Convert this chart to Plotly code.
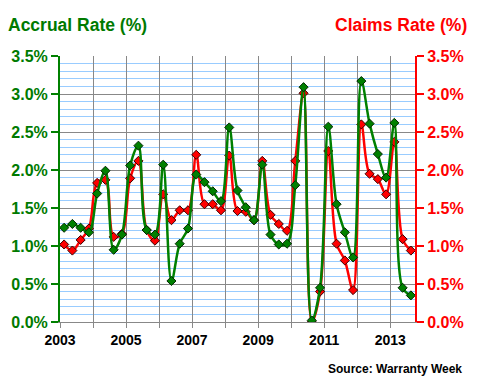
import numpy as np
import plotly.graph_objects as go

# Quarterly data 2003Q1 .. 2013Q3 (percent)
quarters = [f"{y}Q{q}" for y in range(2003, 2014) for q in range(1, 5)][:43]
accrual = [1.24, 1.29, 1.24, 1.18, 1.69, 1.99, 0.95, 1.15, 2.06, 2.32, 1.21,
           1.15, 2.07, 0.54, 1.03, 1.23, 1.94, 1.84, 1.72, 1.59, 2.56, 1.73,
           1.51, 1.34, 2.07, 1.15, 1.02, 1.03, 1.80, 3.09, 0.02, 0.45, 2.57,
           1.55, 1.18, 0.85, 3.17, 2.61, 2.21, 1.90, 2.62, 0.45, 0.35]
claims = [1.02, 0.94, 1.08, 1.23, 1.83, 1.87, 1.12, 1.16, 1.89, 2.12, 1.21,
          1.07, 1.68, 1.34, 1.47, 1.47, 2.20, 1.55, 1.55, 1.47, 2.19, 1.46,
          1.45, 1.34, 2.12, 1.41, 1.29, 1.20, 2.12, 3.01, 0.00, 0.40, 2.25,
          1.03, 0.81, 0.42, 2.60, 1.95, 1.88, 1.68, 2.37, 1.09, 0.94]
years = list(range(2003, 2014))
year_labels = [str(y) if (y - 2003) % 2 == 0 else "" for y in years]

x = np.arange(len(quarters)) + 0.5
year_pos = [(y - 2003) * 4 for y in years]

GREEN = "#008000"
RED = "#ff0000"
FONT = "Liberation Sans"

fig = go.Figure()
# invisible carrier so the right-hand (claims) axis is rendered
fig.add_trace(go.Scatter(
    x=x, y=claims, mode="lines", opacity=0, hoverinfo="skip",
    showlegend=False, yaxis="y2"))
fig.add_trace(go.Scatter(
    x=x, y=claims, name="Claims Rate", mode="lines+markers",
    line=dict(color=RED, width=2.5, shape="spline", smoothing=1),
    marker=dict(symbol="diamond", size=7, color=RED,
                line=dict(color="#3a0000", width=1)),
    yaxis="y", text=quarters))
fig.add_trace(go.Scatter(
    x=x, y=accrual, name="Accrual Rate", mode="lines+markers",
    line=dict(color=GREEN, width=2.5, shape="spline", smoothing=1),
    marker=dict(symbol="diamond", size=7, color=GREEN,
                line=dict(color="#002800", width=1)),
    yaxis="y", text=quarters))

fig.update_layout(
    width=480, height=380,
    margin=dict(l=60, r=65, t=56, b=58),
    paper_bgcolor="white", plot_bgcolor="white",
    showlegend=False,
    font=dict(family=FONT, color="black"),
    xaxis=dict(
        range=[0, 43], tickmode="array", tickvals=year_pos, ticktext=year_labels,
        showgrid=True, gridcolor="#888888", gridwidth=1,
        showline=True, linecolor="#888888", linewidth=1,
        ticks="outside", ticklen=5, tickcolor="#888888", tickwidth=1,
        tickfont=dict(family=FONT, size=14, color="black", weight="bold"),
        zeroline=False, fixedrange=True, automargin=False,
    ),
    yaxis=dict(
        range=[0, 3.5], dtick=0.5, tickformat=".1f", ticksuffix="%",
        showgrid=True, gridcolor="#888888", gridwidth=1,
        minor=dict(dtick=0.1, showgrid=True, gridcolor="#99ccff", gridwidth=1),
        showline=True, linecolor=GREEN, linewidth=2,
        ticks="outside", ticklen=7, tickcolor=GREEN, tickwidth=2,
        tickfont=dict(family=FONT, size=16, color="#007a00", weight="bold"),
        zeroline=False, automargin=False,
    ),
    yaxis2=dict(
        range=[0, 3.5], dtick=0.5, tickformat=".1f", ticksuffix="%",
        overlaying="y", side="right", anchor="x",
        showgrid=False, showline=True, linecolor=RED, linewidth=2,
        ticks="outside", ticklen=7, tickcolor=RED, tickwidth=2,
        tickfont=dict(family=FONT, size=16, color=RED, weight="bold"),
        zeroline=False, automargin=False,
    ),
    annotations=[
        dict(text="Accrual Rate (%)", xref="paper", yref="paper", x=0, y=1,
             xanchor="left", yanchor="middle", xshift=-54, yshift=31,
             showarrow=False,
             font=dict(family=FONT, size=17.5, color="#007a00", weight="bold")),
        dict(text="Claims Rate (%)", xref="paper", yref="paper", x=1, y=1,
             xanchor="right", yanchor="middle", xshift=54, yshift=31,
             showarrow=False,
             font=dict(family=FONT, size=17.5, color=RED, weight="bold")),
        dict(text="Source: Warranty Week", xref="paper", yref="paper", x=1, y=0,
             xanchor="right", yanchor="middle", xshift=49, yshift=-47,
             showarrow=False,
             font=dict(family=FONT, size=12, color="black", weight="bold")),
    ],
)

# the page's default body margin would shift the 480x380 figure; remove it
fig.write_html("out.html",
               config={"displayModeBar": False},
               post_script="document.body.style.margin='0';"
                           "document.body.style.overflow='hidden';")
